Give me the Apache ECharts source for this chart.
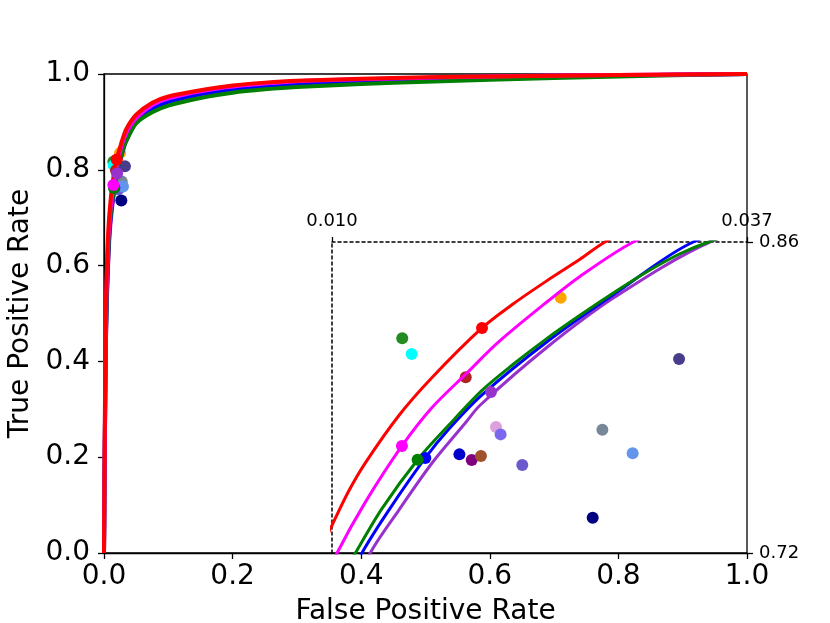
<!DOCTYPE html>
<html>
<head>
<meta charset="utf-8">
<title>ROC</title>
<script src="https://cdn.jsdelivr.net/npm/echarts@6/dist/echarts.min.js"></script>
<style>
	html,body{margin:0;padding:0;background:#fff;}
	#roc{width:830px;height:623px;}
</style>
</head>
<body>
<div id="roc"></div>
<script>
// tick values
var mainTicks = [0, 0.2, 0.4, 0.6, 0.8, 1.0];
var zoomXTicks = [0.010, 0.037];
var zoomYTicks = [0.72, 0.86];

// roc curves [fpr, tpr]
var redCurve = [[0,0],[0.001,0.22],[0.002,0.40],[0.003,0.52],[0.005,0.62],[0.007,0.68],[0.0085,0.71],[0.0101,0.7339],[0.01108,0.7478],[0.01217,0.7606],[0.01434,0.7818],[0.01651,0.7990],[0.01976,0.8213],[0.02180,0.8322],[0.02397,0.8425],[0.02613,0.8522],[0.02776,0.8600],[0.035,0.886],[0.05,0.915],[0.075,0.940],[0.1,0.953],[0.15,0.966],[0.2,0.976],[0.25,0.982],[0.3,0.986],[0.4,0.990],[0.5,0.993],[0.6,0.995],[0.8,0.998],[1,1]];
var magentaCurve = [[0,0],[0.001,0.20],[0.002,0.37],[0.003,0.49],[0.005,0.60],[0.007,0.66],[0.009,0.70],[0.01033,0.72],[0.01217,0.7429],[0.01455,0.7682],[0.01651,0.7855],[0.01867,0.8003],[0.02084,0.8150],[0.02380,0.8320],[0.02613,0.8445],[0.02961,0.8600],[0.037,0.883],[0.05,0.908],[0.075,0.935],[0.1,0.949],[0.15,0.964],[0.2,0.974],[0.25,0.980],[0.3,0.985],[0.4,0.989],[0.5,0.992],[0.6,0.995],[0.8,0.998],[1,1]];
var greenCurve = [[0,0],[0.001,0.18],[0.002,0.34],[0.003,0.46],[0.005,0.57],[0.007,0.64],[0.009,0.69],[0.01152,0.72],[0.01325,0.7400],[0.01557,0.7620],[0.01759,0.7775],[0.01976,0.7932],[0.02171,0.8045],[0.02397,0.8165],[0.02613,0.8270],[0.0284,0.8375],[0.03047,0.8465],[0.03264,0.8547],[0.0345,0.8600],[0.05,0.897],[0.075,0.920],[0.1,0.934],[0.15,0.950],[0.2,0.961],[0.25,0.968],[0.3,0.973],[0.4,0.979],[0.5,0.984],[0.6,0.988],[0.8,0.995],[1,1]];
var blueCurve = [[0,0],[0.001,0.18],[0.002,0.33],[0.003,0.45],[0.005,0.56],[0.007,0.63],[0.009,0.68],[0.01195,0.72],[0.01369,0.7392],[0.01607,0.7628],[0.01759,0.7757],[0.01976,0.7912],[0.02397,0.8150],[0.0284,0.8367],[0.03351,0.8600],[0.05,0.903],[0.075,0.928],[0.1,0.942],[0.15,0.958],[0.2,0.968],[0.25,0.975],[0.3,0.980],[0.4,0.986],[0.5,0.990],[0.6,0.993],[0.8,0.997],[1,1]];
var purpleCurve = [[0,0],[0.001,0.17],[0.002,0.32],[0.003,0.44],[0.005,0.55],[0.007,0.62],[0.009,0.67],[0.01249,0.72],[0.01434,0.7392],[0.01651,0.7605],[0.01867,0.7785],[0.01963,0.7865],[0.02397,0.8125],[0.0284,0.8352],[0.03459,0.8600],[0.05,0.900],[0.075,0.925],[0.1,0.940],[0.15,0.956],[0.2,0.966],[0.25,0.973],[0.3,0.978],[0.4,0.985],[0.5,0.989],[0.6,0.993],[0.8,0.997],[1,1]];

// other methods (single points)
var dotX = [0.01457, 0.01518, 0.02488, 0.01870, 0.02067, 0.02097, 0.01829, 0.01909, 0.01969, 0.02238, 0.02759, 0.02956, 0.03258, 0.02696];
var dotY = [0.8167, 0.8096, 0.8349, 0.7991, 0.7767, 0.7734, 0.7644, 0.7619, 0.7637, 0.7596, 0.7755, 0.7649, 0.8073, 0.7359];
var dotColors = ['#228b22','#00ffff','#ffa500','#b22222','#dda0dd','#7b68ee','#0000cd','#800080','#a0522d','#6a5acd','#778899','#6495ed','#483d8b','#000080'];

// operating points of the curves
var opX = [0.02034, 0.01607, 0.01557, 0.01455, 0.01976];
var opY = [0.7925, 0.7628, 0.7620, 0.7682, 0.8213];
var opColors = ['#9932cc','#0000ff','#008000','#ff00ff','#ff0000'];

var curves = [purpleCurve, blueCurve, greenCurve, magentaCurve, redCurve];
var curveColors = ['#9932cc','#0000ff','#008000','#ff00ff','#ff0000'];

var font = 'DejaVu Sans';

function pts(xs, ys, cols){
	var out = [];
	for(var i=0;i<xs.length;i++){
		out.push({value:[xs[i],ys[i]], itemStyle:{color:cols[i], opacity:1}});
	}
	return out;
}

function buildSeries(g, lw){
	var s = [];
	s.push({
		type:'scatter', xAxisIndex:g, yAxisIndex:g, symbolSize:12, z:2,
		itemStyle:{opacity:1},
		data:pts(dotX, dotY, dotColors), silent:true
	});
	for(var i=0;i<curves.length;i++){
		s.push({
			type:'line', xAxisIndex:g, yAxisIndex:g, data:curves[i], showSymbol:false,
			smooth:0.3, z:3+i,
			lineStyle:{color:curveColors[i], width:lw}, silent:true
		});
	}
	s.push({
		type:'scatter', xAxisIndex:g, yAxisIndex:g, symbolSize:12, z:10,
		itemStyle:{opacity:1},
		data:pts(opX, opY, opColors), silent:true
	});
	return s;
}

var myChart = echarts.init(document.getElementById('roc'));

var blackLine = {color:'#000', width:1.3};

var option = {
	animation:false,
	backgroundColor:'#fff',
	textStyle:{fontFamily:font},
	grid:[
		{left:104, top:74, width:643, height:479, outerBoundsMode:'none', containLabel:false,
			show:true, borderColor:'#000', borderWidth:1.3, backgroundColor:'transparent'},
		{left:332, top:242, width:415, height:311, outerBoundsMode:'none', containLabel:false}
	],
	xAxis:[
		{
			gridIndex:0, type:'value', min:0, max:1, interval:0.2,
			axisLine:{lineStyle:blackLine},
			axisTick:{length:6, lineStyle:blackLine},
			axisLabel:{fontSize:28, color:'#000', margin:10, fontFamily:font, customValues:mainTicks,
				formatter:function(v){return v.toFixed(1);}},
			splitLine:{show:false},
			name:'False Positive Rate', nameLocation:'middle', nameGap:45,
			nameTextStyle:{fontSize:28, color:'#000', fontFamily:font}
		},
		{
			gridIndex:1, type:'value', position:'top', min:zoomXTicks[0], max:zoomXTicks[1],
			axisLine:{lineStyle:{color:'#000', width:1.5, type:[3,3]}},
			axisTick:{length:5, lineStyle:blackLine, customValues:zoomXTicks},
			axisLabel:{fontSize:18, color:'#000', margin:12, fontFamily:font, customValues:zoomXTicks,
				formatter:function(v){return v.toFixed(3);}},
			splitLine:{show:false}
		}
	],
	yAxis:[
		{
			gridIndex:0, type:'value', min:0, max:1, interval:0.2,
			axisLine:{lineStyle:blackLine},
			axisTick:{length:6, lineStyle:blackLine},
			axisLabel:{fontSize:28, color:'#000', margin:14, fontFamily:font, customValues:mainTicks,
				formatter:function(v){return v.toFixed(1);}},
			splitLine:{show:false},
			name:'True Positive Rate', nameLocation:'middle', nameGap:63, nameRotate:90,
			nameTextStyle:{fontSize:28, color:'#000', fontFamily:font}
		},
		{
			gridIndex:1, type:'value', position:'right', min:zoomYTicks[0], max:zoomYTicks[1],
			axisLine:{show:false},
			axisTick:{length:6, lineStyle:blackLine, customValues:zoomYTicks},
			axisLabel:{fontSize:18, color:'#000', margin:12, fontFamily:font, customValues:zoomYTicks,
				formatter:function(v){return v.toFixed(2);}},
			splitLine:{show:false}
		},
		{
			gridIndex:1, type:'value', position:'left', min:zoomYTicks[0], max:zoomYTicks[1],
			axisLine:{lineStyle:{color:'#000', width:1.5, type:[3,3]}},
			axisTick:{show:false},
			axisLabel:{show:false},
			splitLine:{show:false}
		}
	],
	series:buildSeries(0, 4).concat(buildSeries(1, 3))
};

myChart.setOption(option);
</script>
</body>
</html>
